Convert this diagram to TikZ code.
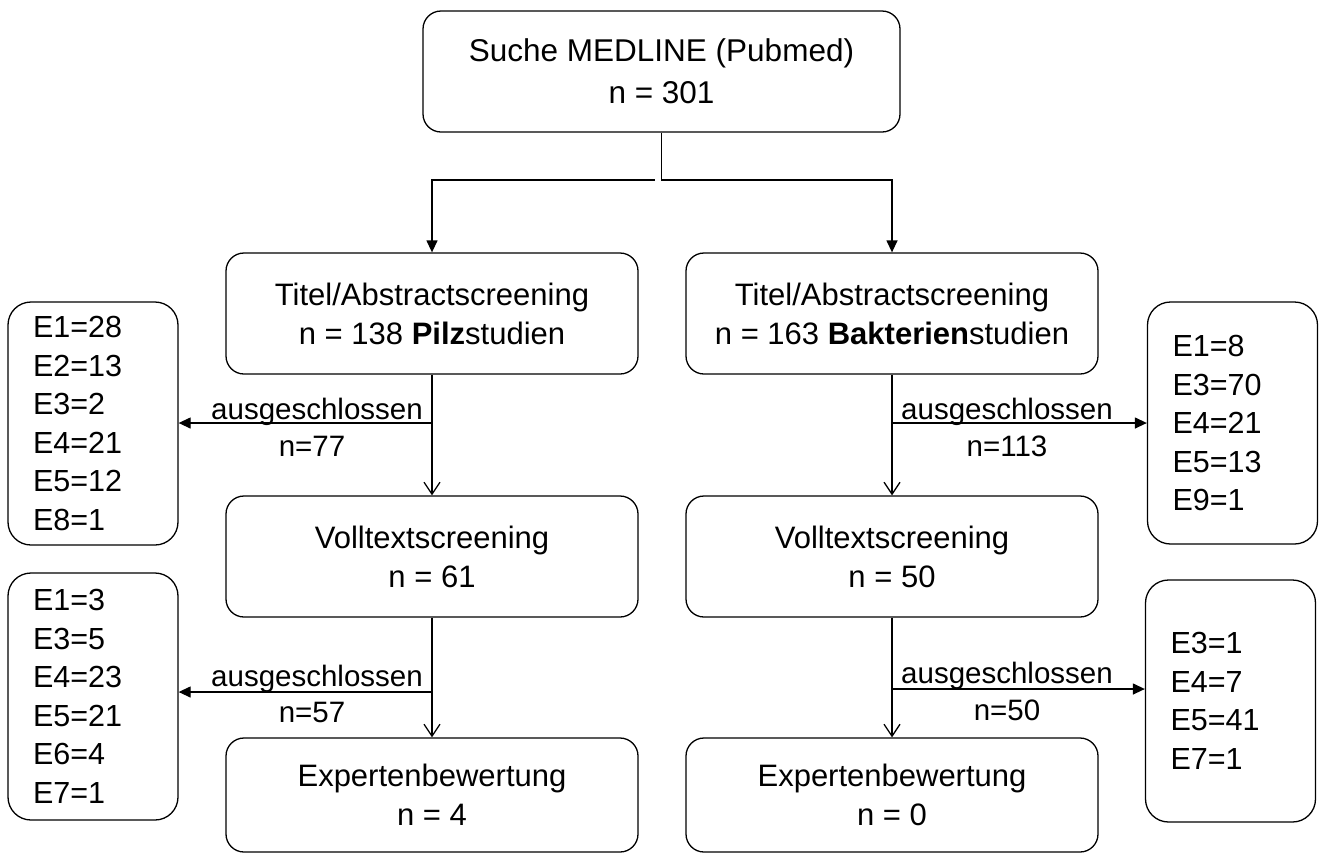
\documentclass[tikz,border=0pt]{standalone}
\usepackage{fontspec}
\setmainfont{Liberation Sans}
\usetikzlibrary{arrows.meta}
\begin{document}
\begin{tikzpicture}[x=1pt,y=-1pt,
  box/.style={draw, line width=1.3pt, rounded corners=18pt, align=center,
    font=\fontsize{31}{39}\selectfont, inner sep=0pt, minimum width=412pt, minimum height=121pt},
  ebox/.style={draw, line width=1.3pt, rounded corners=23pt, align=left, text width=120pt,
    inner xsep=25pt, inner ysep=0pt, font=\fontsize{30.5}{38.5}\selectfont},
  lab/.style={font=\fontsize{29.5}{35}\selectfont, inner sep=0pt},
  conn/.style={line width=1.3pt},
  farrow/.style={conn, -{Triangle[length=12pt,width=11pt]}},
  varrow/.style={conn, -{Straight Barb[length=12pt,width=16pt,line width=1.3pt]}}
]
\useasboundingbox (0,0) rectangle (1319,855);

% main boxes
\node[box, minimum width=477pt, font=\fontsize{31.5}{42}\selectfont] (top) at (661.5,71.5) {Suche MEDLINE (Pubmed)\\n = 301};
\node[box] (t1) at (432,313.5) {Titel/Abstractscreening\\n = 138 \textbf{Pilz}studien};
\node[box] (t2) at (892,313.5) {Titel/Abstractscreening\\n = 163 \textbf{Bakterien}studien};
\node[box] (v1) at (432,556.5) {Volltextscreening\\n = 61};
\node[box] (v2) at (892,556.5) {Volltextscreening\\n = 50};
\node[box, minimum height=114pt] (x1) at (432,795) {Expertenbewertung\\n = 4};
\node[box, minimum height=114pt] (x2) at (892,795) {Expertenbewertung\\n = 0};

% exclusion boxes
\node[ebox, minimum height=243pt] (e1) at (93,423.5) {E1=28\\E2=13\\E3=2\\E4=21\\E5=12\\E8=1};
\node[ebox, minimum height=247pt] (e2) at (93,696.5) {E1=3\\E3=5\\E4=23\\E5=21\\E6=4\\E7=1};
\node[ebox, minimum height=242pt] (e3) at (1232.5,423) {E1=8\\E3=70\\E4=21\\E5=13\\E9=1};
\node[ebox, minimum height=242pt] (e4) at (1230.5,701) {E3=1\\E4=7\\E5=41\\E7=1};

% top split
\coordinate (split) at (661.5,180);
\coordinate (splitL) at (654.5,180);
\draw[farrow] (top.south) -- (split) -| (t2.north);
\draw[farrow] (splitL) -| (t1.north);

% vertical flow
\draw[varrow] (t1.south) -- (v1.north);
\draw[varrow] (v1.south) -- (x1.north);
\draw[varrow] (t2.south) -- (v2.north);
\draw[varrow] (v2.south) -- (x2.north);

% exclusion arrows
\coordinate (j1) at (432,423);
\coordinate (j2) at (432,692);
\coordinate (j3) at (892,423);
\coordinate (j4) at (892,689);
\draw[farrow] (j1) -- (e1.east |- j1);
\draw[farrow] (j2) -- (e2.east |- j2);
\draw[farrow] (j3) -- (e3.west |- j3);
\draw[farrow] (j4) -- (e4.west |- j4);

% labels
\node[lab, anchor=base] (a1) at (317,419) {ausgeschlossen};
\node[lab] (n1) at (312,446) {n=77};
\node[lab, anchor=base] (a2) at (317,686) {ausgeschlossen};
\node[lab] (n2) at (312,712) {n=57};
\node[lab, anchor=base] (a3) at (1007,419) {ausgeschlossen};
\node[lab] (n3) at (1007,446) {n=113};
\node[lab, anchor=base] (a4) at (1007,683) {ausgeschlossen};
\node[lab] (n4) at (1007,710) {n=50};
\end{tikzpicture}
\end{document}
